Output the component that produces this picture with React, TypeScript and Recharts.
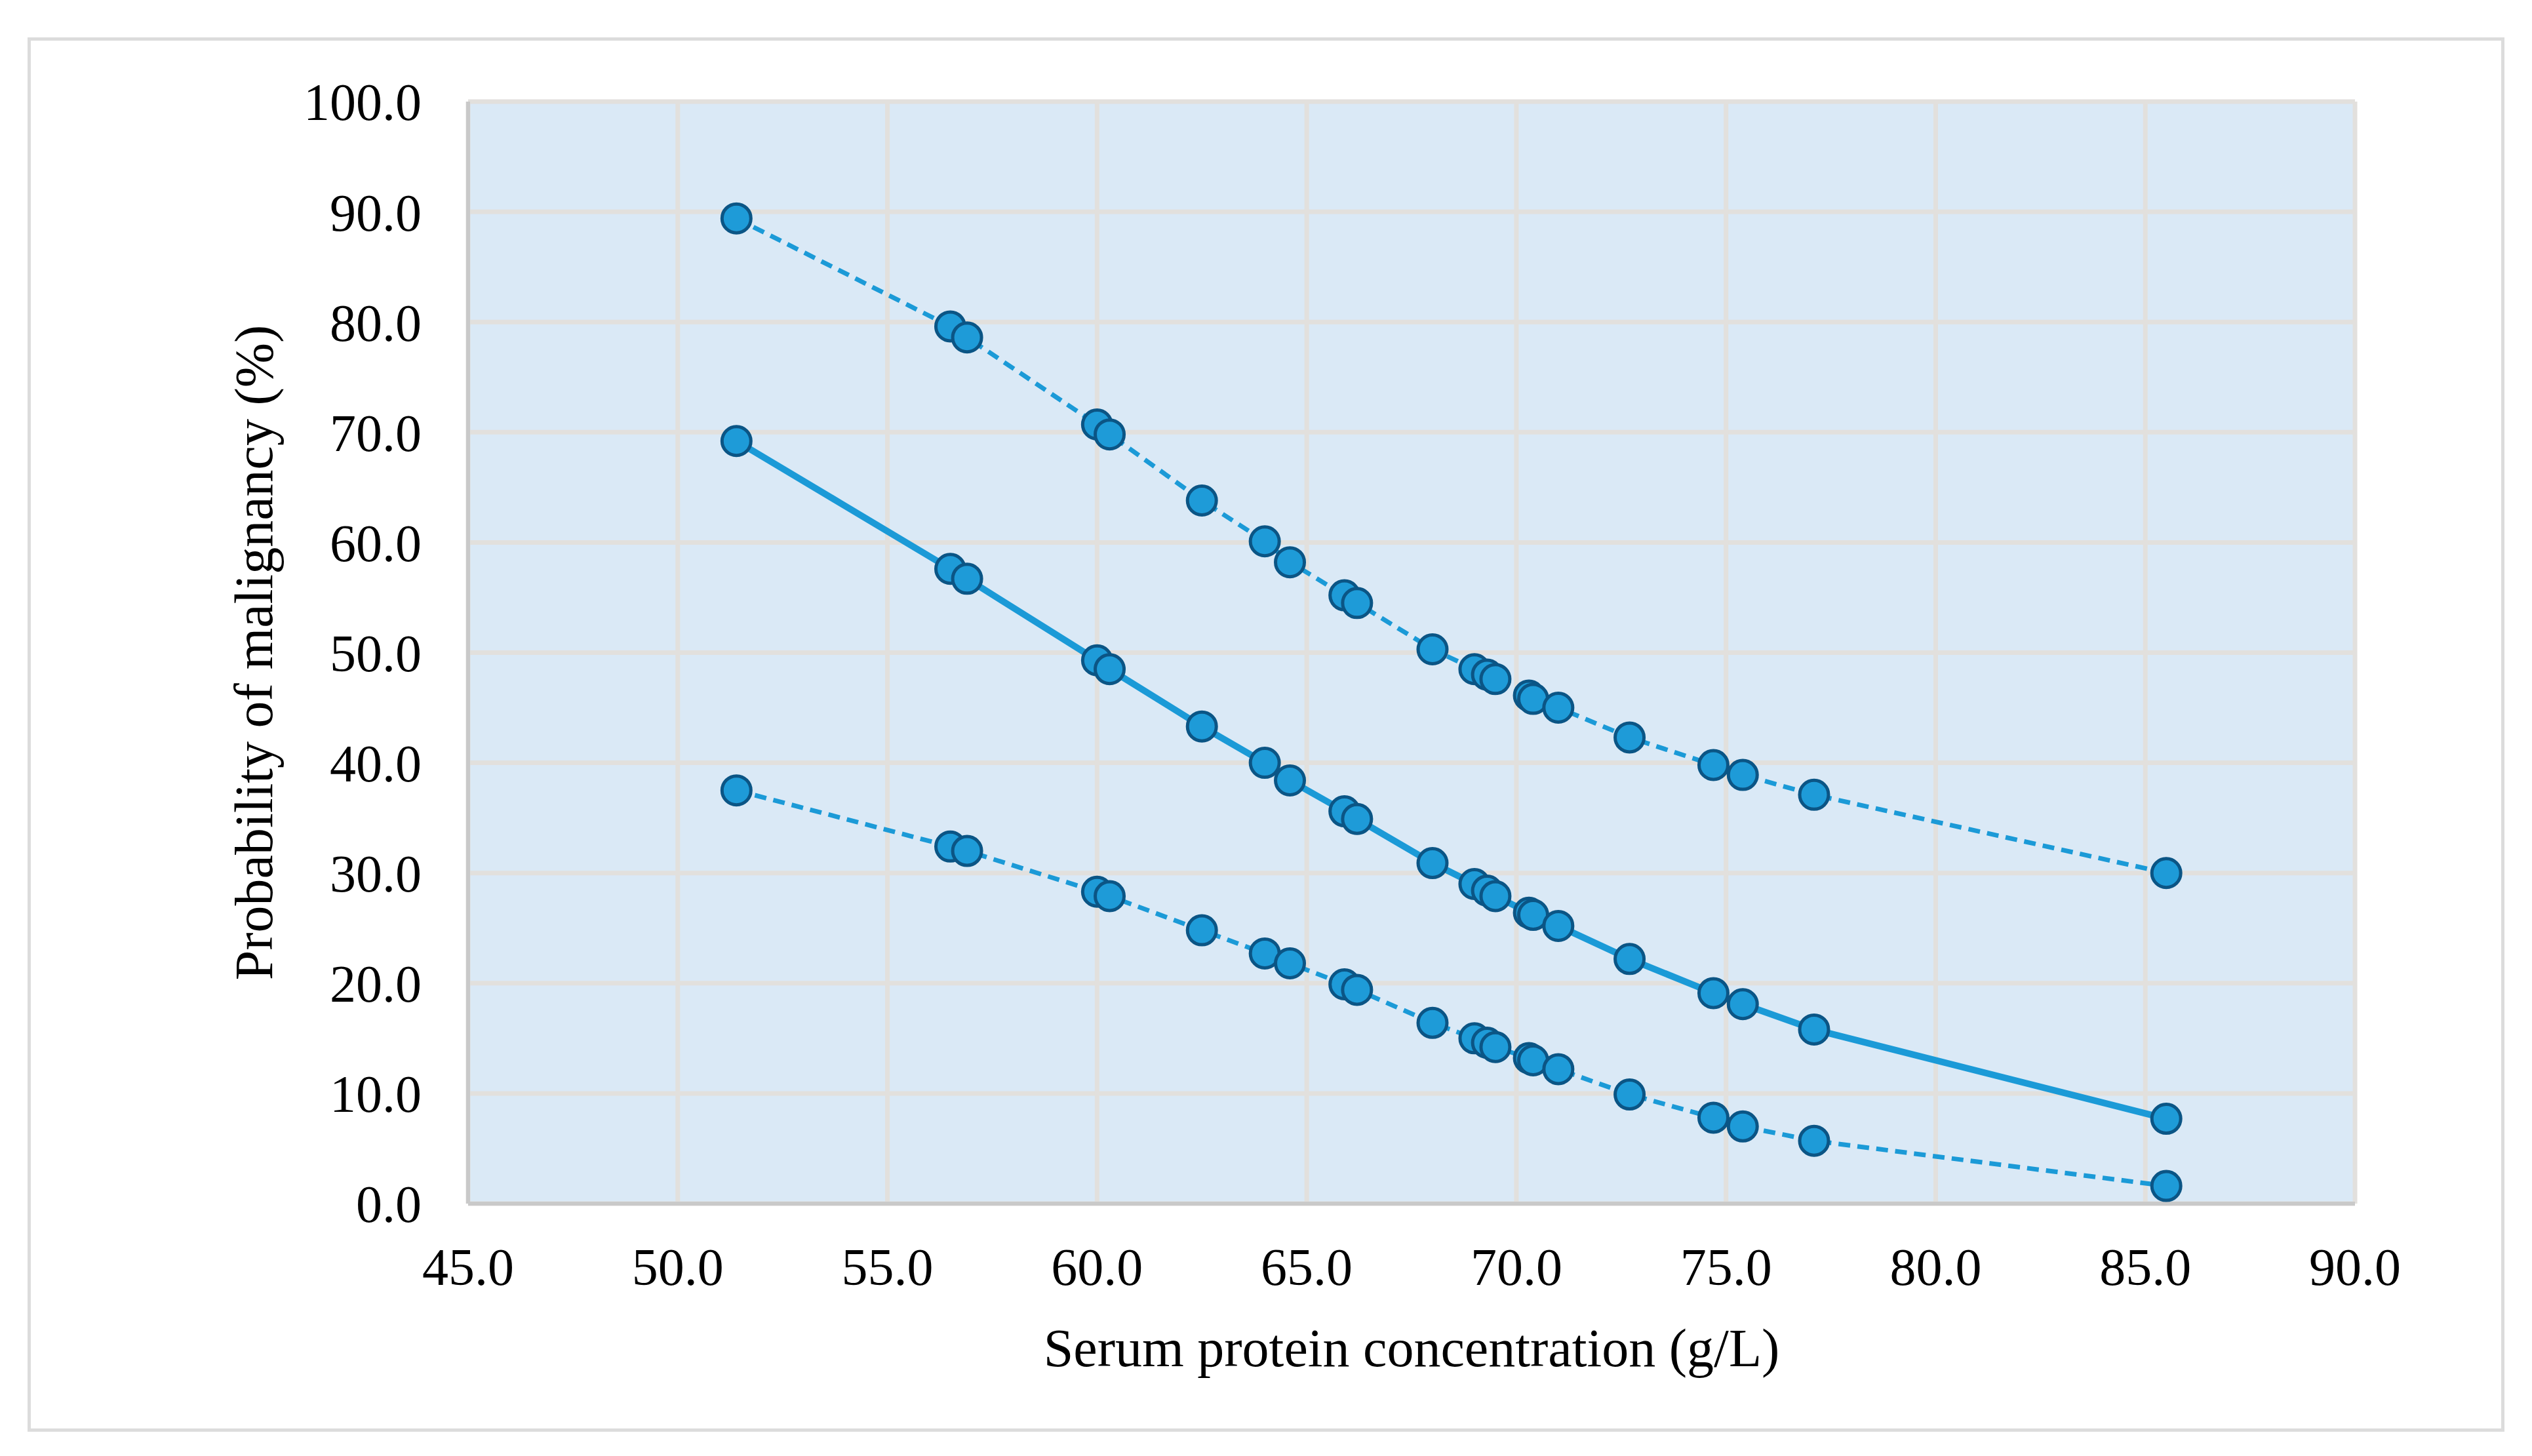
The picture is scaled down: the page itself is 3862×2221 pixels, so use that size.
import * as React from 'react'
import { LineChart, Line, XAxis, YAxis, CartesianGrid, Label } from 'recharts'

// serum protein concentration (g/L)
const proteinValues = [
  51.4, 56.5, 56.9, 60.0, 60.3, 62.5, 64.0, 64.6, 65.9, 66.2, 68.0,
  69.0, 69.3, 69.5, 70.3, 70.4, 71.0, 72.7, 74.7, 75.4, 77.1, 85.5
]

// upper bound (dashed)
const upperValues = [
  89.4, 79.6, 78.6, 70.7, 69.8, 63.8, 60.1, 58.2, 55.2, 54.5, 50.3,
  48.5, 48.0, 47.6, 46.1, 45.8, 45.0, 42.3, 39.8, 38.9, 37.1, 30.0
]

// estimated probability (solid)
const estimateValues = [
  69.2, 57.6, 56.7, 49.3, 48.5, 43.3, 40.0, 38.4, 35.6, 34.9, 30.9,
  29.0, 28.4, 27.9, 26.4, 26.2, 25.2, 22.2, 19.1, 18.1, 15.8, 7.7
]

// lower bound (dashed)
const lowerValues = [
  37.5, 32.4, 32.0, 28.3, 27.9, 24.8, 22.7, 21.8, 19.9, 19.4, 16.4,
  15.0, 14.6, 14.2, 13.2, 13.0, 12.2, 9.9, 7.8, 7.0, 5.7, 1.6
]

const xTicks = [45, 50, 55, 60, 65, 70, 75, 80, 85, 90]
const yTicks = [0, 10, 20, 30, 40, 50, 60, 70, 80, 90, 100]

const data = proteinValues.map((x, i) => ({
  x,
  upper: upperValues[i],
  estimate: estimateValues[i],
  lower: lowerValues[i]
}))

const FONT = '"Liberation Serif", "Times New Roman", serif'
const LINE_COLOR = '#1B9AD7'
const DOT_FILL = '#1E9BD8'
const DOT_STROKE = '#0B5585'

const renderDot = (props: any) => {
  const { cx, cy, index } = props
  if (cx == null || cy == null) return <g key={`d-${index}`} />
  return (
    <circle
      key={`d-${index}`}
      cx={cx}
      cy={cy}
      r={22}
      fill={DOT_FILL}
      stroke={DOT_STROKE}
      strokeWidth={5}
    />
  )
}

const tickStyle = { fontFamily: FONT, fontSize: 80, fill: '#000' }

export default function App() {
  return (
    <div
      style={{
        position: 'absolute',
        left: 0,
        top: 0,
        width: 3862,
        height: 2221,
        background: '#fff'
      }}
    >
      <div
        style={{
          position: 'absolute',
          left: 42,
          top: 57,
          width: 3778,
          height: 2127,
          border: '5px solid #DCDCDC',
          boxSizing: 'border-box'
        }}
      />
      <div style={{ position: 'absolute', left: 0, top: 0 }}>
        <LineChart
          width={3862}
          height={2221}
          data={data}
          margin={{ top: 155, right: 270, bottom: 185, left: 414 }}
        >
          <CartesianGrid
            fill="#DAE9F6"
            stroke="#E2E0DD"
            strokeWidth={7}
            horizontalValues={yTicks}
            verticalValues={xTicks}
          />
          <XAxis
            type="number"
            dataKey="x"
            domain={[45, 90]}
            ticks={xTicks}
            tickFormatter={(v: number) => v.toFixed(1)}
            height={200}
            tickLine={false}
            tickSize={0}
            tickMargin={67}
            axisLine={{ stroke: '#C9C9C9', strokeWidth: 6 }}
            tick={tickStyle}
            interval={0}
          >
            <Label
              content={(props: any) => {
                const vb = props.viewBox || { x: 714, y: 1836, width: 2878 }
                return (
                  <text
                    x={vb.x + vb.width / 2}
                    y={vb.y + 248}
                    textAnchor="middle"
                    fontFamily={FONT}
                    fontSize={82}
                    fill="#000"
                  >
                    Serum protein concentration (g/L)
                  </text>
                )
              }}
            />
          </XAxis>
          <YAxis
            type="number"
            domain={[0, 100]}
            ticks={yTicks}
            tickFormatter={(v: number) => v.toFixed(1)}
            width={300}
            tickLine={false}
            tickSize={0}
            tickMargin={71}
            axisLine={{ stroke: '#C9C9C9', strokeWidth: 6 }}
            tick={tickStyle}
            interval={0}
          >
            <Label
              content={(props: any) => {
                const vb = props.viewBox || { x: 414, y: 155, width: 300, height: 1681 }
                const x = vb.x + vb.width - 299
                const y = vb.y + vb.height / 2
                return (
                  <text
                    x={x}
                    y={y}
                    transform={`rotate(-90, ${x}, ${y})`}
                    textAnchor="middle"
                    fontFamily={FONT}
                    fontSize={82}
                    fill="#000"
                  >
                    Probability of malignancy (%)
                  </text>
                )
              }}
            />
          </YAxis>
          <Line
            type="linear"
            dataKey="upper"
            stroke={LINE_COLOR}
            strokeWidth={7}
            strokeDasharray="18 11"
            dot={renderDot}
            activeDot={false}
            isAnimationActive={false}
          />
          <Line
            type="linear"
            dataKey="estimate"
            stroke={LINE_COLOR}
            strokeWidth={10}
            dot={renderDot}
            activeDot={false}
            isAnimationActive={false}
          />
          <Line
            type="linear"
            dataKey="lower"
            stroke={LINE_COLOR}
            strokeWidth={7}
            strokeDasharray="18 11"
            dot={renderDot}
            activeDot={false}
            isAnimationActive={false}
          />
        </LineChart>
      </div>
    </div>
  )
}
